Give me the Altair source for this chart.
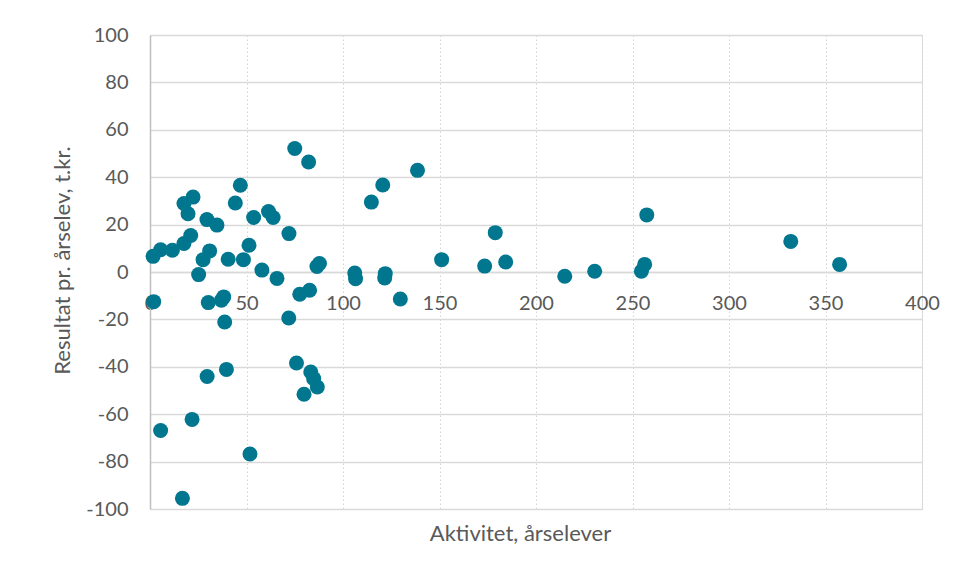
import altair as alt
import pandas as pd

aktivitet = [1.9, 1.6, 5.5, 11.6, 17.6, 21.1, 17.6, 22.3, 19.7, 25.2,
             27.5, 30.9, 29.5, 34.7, 46.8, 44.2, 51.3, 53.7, 40.5, 48.4,
             61.4, 63.8, 58.0, 65.8, 72.0, 86.5, 87.8, 77.6, 82.7, 75.0,
             82.2, 30.2, 37.0, 38.2, 38.7, 71.9, 75.9, 83.3, 84.8, 86.7,
             79.8, 29.6, 39.6, 21.8, 5.5, 51.8, 16.8, 138.6, 120.6, 114.7,
             106.1, 106.5, 121.9, 121.6, 151.1, 129.7, 173.4, 178.9, 184.3, 214.9,
             230.4, 257.4, 256.3, 254.6, 332.0, 357.3]
resultat = [-12.5, 6.6, 9.4, 9.2, 12.0, 15.4, 28.9, 31.6, 24.6, -1.1,
            5.2, 8.9, 22.1, 19.8, 36.6, 29.1, 11.3, 23.0, 5.4, 5.2,
            25.5, 23.0, 0.8, -2.7, 16.2, 2.3, 3.6, -9.4, -7.7, 52.1,
            46.4, -12.9, -11.9, -10.5, -21.1, -19.4, -38.4, -42.2, -45.0, -48.5,
            -51.6, -44.1, -41.1, -62.2, -66.9, -76.8, -95.5, 42.9, 36.7, 29.5,
            -0.4, -2.8, -0.7, -2.5, 5.2, -11.4, 2.5, 16.6, 4.2, -1.8,
            0.3, 24.1, 3.2, 0.3, 12.9, 3.2]

x_ticks = [0, 50, 100, 150, 200, 250, 300, 350, 400]
y_ticks = [100, 80, 60, 40, 20, 0, -20, -40, -60, -80, -100]

df = pd.DataFrame({"Aktivitet": aktivitet, "Resultat": resultat})

W, H = 772, 474
FONT = "Lato"
LBL = "#595959"

chart = alt.Chart(df).mark_circle(size=225, opacity=1, color="#00778F").encode(
    x=alt.X("Aktivitet:Q",
            scale=alt.Scale(domain=[0, 400], nice=False, zero=False),
            axis=alt.Axis(values=x_ticks, title="Aktivitet, årselever",
                          offset=-H / 2, ticks=False, labelPadding=21,
                          labelFontSize=20, labelColor=LBL, labelFont=FONT,
                          domainColor="#d9d9d9", domainWidth=1.5,
                          grid=True, gridColor="#d4d4d4", gridDash=[1.5, 2.5], gridWidth=1,
                          titleFontSize=22, titleFont=FONT, titleColor=LBL,
                          titleFontWeight="normal", titleX=370, titleY=261,
                          titleAlign="center", titleBaseline="middle",
                          labelFlush=False, labelOverlap=False)),
    y=alt.Y("Resultat:Q",
            scale=alt.Scale(domain=[-100, 100], nice=False, zero=False),
            axis=alt.Axis(values=y_ticks, title="Resultat pr. årselev, t.kr.",
                          labelExpr="'' + datum.value",
                          ticks=False, labelPadding=22,
                          labelFontSize=20, labelColor=LBL, labelFont=FONT,
                          domainColor="#bfbfbf", domainWidth=1.5,
                          grid=True, gridColor="#d9d9d9", gridWidth=1.5,
                          titleFontSize=22, titleFont=FONT, titleColor=LBL,
                          titleFontWeight="normal", titleAngle=270,
                          titleX=-88, titleY=225, titleAlign="center",
                          titleBaseline="middle",
                          labelFlush=False, labelOverlap=False)),
).properties(
    width=W, height=H,
    autosize=alt.AutoSizeParams(type="none"),
    padding={"left": 142, "top": 27, "right": 28, "bottom": 60},
).configure_view(stroke=None).configure(background="white")

chart.save("out.html", embed_options={"renderer": "svg", "actions": False})
